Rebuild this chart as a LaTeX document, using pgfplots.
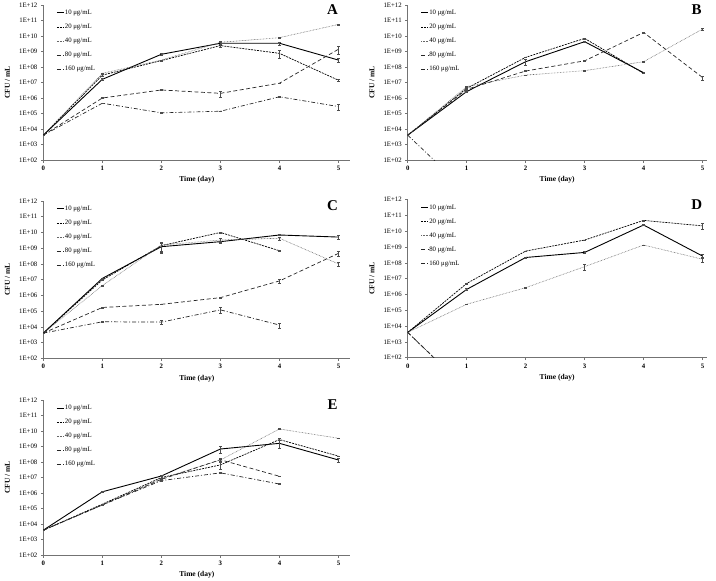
\documentclass[border=0pt]{standalone}
\usepackage{fontspec}
\setmainfont{Liberation Serif}
\usepackage{pgfplots}
\pgfplotsset{compat=1.18}
\tikzset{
  s10/.style={black, line width=0.9bp, solid},
  s20/.style={black, line width=0.7bp, dash pattern=on 2bp off 1bp},
  s40/.style={black!60, line width=0.6bp, dash pattern=on 0.6bp off 0.9bp},
  s80/.style={black!85, line width=0.7bp, dash pattern=on 4bp off 2.5bp},
  s160/.style={black!85, line width=0.7bp, dash pattern=on 4bp off 2bp on 1bp off 2bp},
  ylab/.style={rotate=90, anchor=center, font=\fontsize{7.5}{8}\selectfont\bfseries},
  plab/.style={font=\fontsize{15}{15}\selectfont\bfseries},
}
\pgfplotsset{
    scale only axis, xmin=0, ymin=100, ymax=1e12, clip mode=individual,
    axis x line=bottom, axis y line=left,
    axis line style={-, draw=black!55, line width=0.5bp},
    ytick={1e2,1e3,1e4,1e5,1e6,1e7,1e8,1e9,1e10,1e11,1e12},
    yticklabels={1E+02,1E+03,1E+04,1E+05,1E+06,1E+07,1E+08,1E+09,1E+10,1E+11,1E+12},
    yminorticks=false,
    xtick={0,1,2,3,4,5},
    xticklabels={\textbf{0},\textbf{1},\textbf{2},\textbf{3},\textbf{4},\textbf{5}},
    tick align=outside, major tick length=2.5bp,
    tick style={black!55, line width=0.5bp},
    ticklabel style={font=\fontsize{6.8}{7}\selectfont},
    xlabel style={font=\fontsize{7.5}{8}\selectfont\bfseries, at={(axis description cs:0.5,0)}, anchor=center, yshift=-20bp},
    legend style={draw=none, fill=none, at={(axis description cs:0,1)}, anchor=north west,
      xshift=10bp, yshift=-2bp, font=\fontsize{6.8}{7}\selectfont,
      nodes={inner sep=0.5bp, text height=5bp, text depth=1.5bp}, row sep=6.5bp},
    legend cell align=left,
    legend image code/.code={\draw[#1] (0bp,0bp) -- (7bp,0bp);},
    every axis plot/.append style={mark=none,
      error bars/y dir=both, error bars/y explicit relative,
      error bars/error bar style={solid, line width=0.4bp, black!70},
      error bars/error mark options={rotate=90, mark size=1.3bp, solid, line width=0.4bp, black!70}},
}
\begin{document}
\begin{tikzpicture}
\useasboundingbox (0,0) rectangle (716bp,-581bp);
% ---------------- A
\begin{semilogyaxis}[at={(43.3bp,-160bp)}, anchor=south west, width=307bp, height=155bp, xmax=5.2, xlabel={Time (day)}]
\addplot[s10] coordinates {(0,4e3) +- (0,0.02) (1,1.6e7) +- (0,0.1) (2,6.6e8) +- (0,0.15) (3,3.4e9) +- (0,0.25) (4,3.4e9) +- (0,0.25) (5,2.8e8) +- (0,0.25)};
\addlegendentry{10 μg/mL}
\addplot[s20] coordinates {(0,4e3) +- (0,0.02) (1,3e7) +- (0,0.1) (2,2.6e8) +- (0,0.1) (3,2.4e9) +- (0,0.15) (4,7.6e8) +- (0,0.5) (5,1.4e7) +- (0,0.15)};
\addlegendentry{20 μg/mL}
\addplot[s40] coordinates {(0,4e3) +- (0,0.02) (1,3.9e7) +- (0,0.05) (2,2.8e8) +- (0,0.05) (3,3.9e9) +- (0,0.25) (4,7.8e9) +- (0,0.05) (5,5.6e10) +- (0,0.05)};
\addlegendentry{40 μg/mL}
\addplot[s80] coordinates {(0,4e3) +- (0,0.02) (1,1e6) +- (0,0.05) (2,3.3e6) +- (0,0.05) (3,2e6) +- (0,0.45) (4,9e6) +- (0,0.05) (5,1.4e9) +- (0,0.5)};
\addlegendentry{80 μg/mL}
\addplot[s160] coordinates {(0,4e3) +- (0,0.02) (1,4.6e5) +- (0,0.05) (2,1.1e5) +- (0,0.05) (3,1.4e5) +- (0,0.05) (4,1.2e6) +- (0,0.05) (5,2.8e5) +- (0,0.4)};
\addlegendentry{160 μg/mL}
\node[plab] at (axis cs:4.9,5e11) {A};
\node[ylab] at (rel axis cs:-0.117,0.5) {CFU / mL};
\end{semilogyaxis}
% ---------------- B
\begin{semilogyaxis}[at={(407.7bp,-160bp)}, anchor=south west, width=299bp, height=155bp, xmax=5.07, xlabel={Time (day)}]
\addplot[s10] coordinates {(0,4e3) +- (0,0.02) (1,2.6e6) +- (0,0.1) (2,2.2e8) +- (0,0.4) (3,4.3e9) +- (0,0.1) (4,4.3e7) +- (0,0.1)};
\addlegendentry{10 μg/mL}
\addplot[s20] coordinates {(0,4e3) +- (0,0.02) (1,4.2e6) +- (0,0.05) (2,4.2e8) +- (0,0.05) (3,7e9) +- (0,0.05) (4,3.9e7) +- (0,0.05)};
\addlegendentry{20 μg/mL}
\addplot[s40] coordinates {(0,4e3) +- (0,0.02) (1,5.4e6) +- (0,0.05) (2,3e7) +- (0,0.05) (3,5.8e7) +- (0,0.05) (4,2.2e8) +- (0,0.05) (5,2.8e10) +- (0,0.1)};
\addlegendentry{40 μg/mL}
\addplot[s80] coordinates {(0,4e3) +- (0,0.02) (1,3.6e6) +- (0,0.05) (2,5.5e7) +- (0,0.05) (3,2.5e8) +- (0,0.1) (4,1.7e10) +- (0,0.05) (5,2.1e7) +- (0,0.3)};
\addlegendentry{80 μg/mL}
\addplot[s160] coordinates {(0,4e3) +- (0,0.02) (1,1) +- (0,0)};
\addlegendentry{160 μg/mL}
\node[plab] at (axis cs:4.9,5e11) {B};
\node[ylab] at (rel axis cs:-0.12,0.5) {CFU / mL};
\end{semilogyaxis}
% ---------------- C
\begin{semilogyaxis}[at={(43.3bp,-358.3bp)}, anchor=south west, width=307bp, height=157.3bp, xmax=5.2, xlabel={Time (day)}]
\addplot[s10] coordinates {(0,4e3) +- (0,0.02) (1,1.2e7) +- (0,0.05) (2,1.25e9) +- (0,0.6) (3,2.6e9) +- (0,0.15) (4,6.9e9) +- (0,0.05) (5,5.1e9) +- (0,0.25)};
\addlegendentry{10 μg/mL}
\addplot[s20] coordinates {(0,4e3) +- (0,0.02) (1,9.5e6) +- (0,0.05) (2,1.45e9) +- (0,0.6) (3,1e10) +- (0,0.05) (4,6.9e8) +- (0,0.05)};
\addlegendentry{20 μg/mL}
\addplot[s40] coordinates {(0,4e3) +- (0,0.02) (1,4.2e6) +- (0,0.05) (2,1.6e9) +- (0,0.6) (3,3.3e9) +- (0,0.25) (4,4.3e9) +- (0,0.25) (5,1e8) +- (0,0.25)};
\addlegendentry{40 μg/mL}
\addplot[s80] coordinates {(0,4e3) +- (0,0.02) (1,1.7e5) +- (0,0.05) (2,2.7e5) +- (0,0.05) (3,7.2e5) +- (0,0.05) (4,8.3e6) +- (0,0.3) (5,4.7e8) +- (0,0.3)};
\addlegendentry{80 μg/mL}
\addplot[s160] coordinates {(0,4e3) +- (0,0.02) (1,2.1e4) +- (0,0.05) (2,2e4) +- (0,0.25) (3,1.2e5) +- (0,0.4) (4,1.3e4) +- (0,0.4)};
\addlegendentry{160 μg/mL}
\node[plab] at (axis cs:4.9,5e11) {C};
\node[ylab] at (rel axis cs:-0.117,0.5) {CFU / mL};
\end{semilogyaxis}
% ---------------- D
\begin{semilogyaxis}[at={(407.7bp,-357.7bp)}, anchor=south west, width=299bp, height=158bp, xmax=5.07, xlabel={Time (day)}]
\addplot[s10] coordinates {(0,4e3) +- (0,0.02) (1,2.1e6) +- (0,0.15) (2,2.2e8) +- (0,0.05) (3,4.6e8) +- (0,0.15) (4,2.5e10) +- (0,0.05) (5,2.7e8) +- (0,0.3)};
\addlegendentry{10 μg/mL}
\addplot[s20] coordinates {(0,4e3) +- (0,0.02) (1,5e6) +- (0,0.05) (2,5.6e8) +- (0,0.05) (3,2.8e9) +- (0,0.05) (4,4.9e10) +- (0,0.05) (5,2.2e10) +- (0,0.4)};
\addlegendentry{20 μg/mL}
\addplot[s40] coordinates {(0,4e3) +- (0,0.02) (1,2.4e5) +- (0,0.05) (2,2.7e6) +- (0,0.1) (3,5.8e7) +- (0,0.4) (4,1.35e9) +- (0,0.05) (5,1.7e8) +- (0,0.3)};
\addlegendentry{40 μg/mL}
\addplot[s80] coordinates {(0,4e3) +- (0,0.02) (1,1) +- (0,0)};
\addlegendentry{80 μg/mL}
\addplot[s160] coordinates {(0,4e3) +- (0,0.02) (1,1) +- (0,0)};
\addlegendentry{160 μg/mL}
\node[plab] at (axis cs:4.9,5e11) {D};
\node[ylab] at (rel axis cs:-0.12,0.5) {CFU / mL};
\end{semilogyaxis}
% ---------------- E
\begin{semilogyaxis}[at={(43.3bp,-555bp)}, anchor=south west, width=307bp, height=155bp, xmax=5.2, xlabel={Time (day)}]
\addplot[s10] coordinates {(0,4e3) +- (0,0.02) (1,1.2e6) +- (0,0.05) (2,1.25e7) +- (0,0.05) (3,6.9e8) +- (0,0.5) (4,1.6e9) +- (0,0.5) (5,1.35e8) +- (0,0.25)};
\addlegendentry{10 μg/mL}
\addplot[s20] coordinates {(0,4e3) +- (0,0.02) (1,1.9e5) +- (0,0.05) (2,1e7) +- (0,0.15) (3,6.5e7) +- (0,0.5) (4,2.8e9) +- (0,0.15) (5,2.4e8) +- (0,0.05)};
\addlegendentry{20 μg/mL}
\addplot[s40] coordinates {(0,4e3) +- (0,0.02) (1,1.7e5) +- (0,0.05) (2,8.7e6) +- (0,0.05) (3,1.35e8) +- (0,0.15) (4,1.35e10) +- (0,0.05) (5,3.4e9) +- (0,0.05)};
\addlegendentry{40 μg/mL}
\addplot[s80] coordinates {(0,4e3) +- (0,0.02) (1,1.7e5) +- (0,0.05) (2,7.6e6) +- (0,0.05) (3,1.4e8) +- (0,0.3) (4,1.2e7) +- (0,0.05)};
\addlegendentry{80 μg/mL}
\addplot[s160] coordinates {(0,4e3) +- (0,0.02) (1,1.7e5) +- (0,0.05) (2,6.3e6) +- (0,0.05) (3,2e7) +- (0,0.05) (4,3.8e6) +- (0,0.05)};
\addlegendentry{160 μg/mL}
\node[plab] at (axis cs:4.9,5e11) {E};
\node[ylab] at (rel axis cs:-0.117,0.5) {CFU / mL};
\end{semilogyaxis}
\end{tikzpicture}
\end{document}
